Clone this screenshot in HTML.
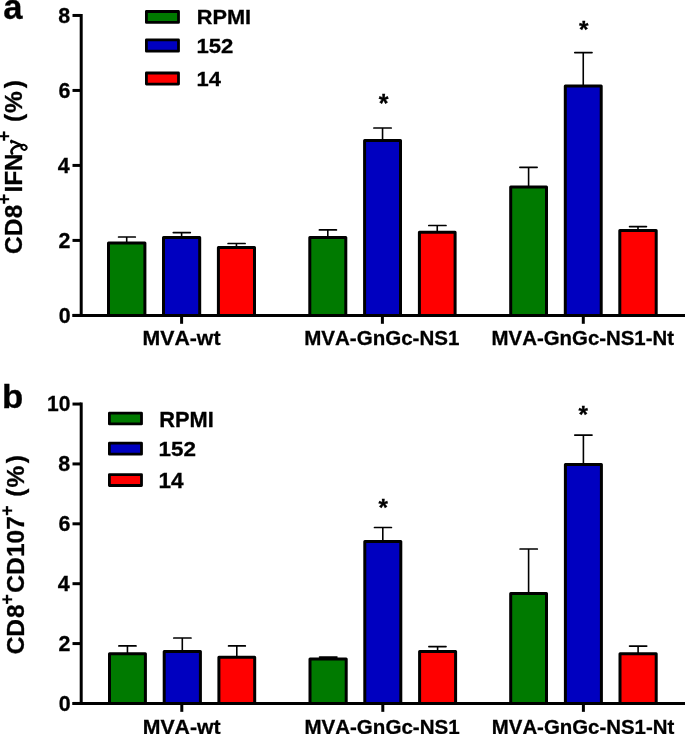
<!DOCTYPE html>
<html><head><meta charset="utf-8"><style>
html,body{margin:0;padding:0;background:#fff;}
body{width:685px;height:734px;overflow:hidden;}
svg{display:block;will-change:transform;}
text{font-family:"Liberation Sans",sans-serif;font-weight:bold;fill:#000;font-kerning:none;stroke:#000;stroke-width:0.3px;}
</style></head><body>
<svg width="685" height="734" viewBox="0 0 685 734">
<line x1="126.7" y1="243.1" x2="126.7" y2="237" stroke="#000" stroke-width="1.6"/>
<line x1="118.6" y1="237" x2="135.3" y2="237" stroke="#000" stroke-width="1.7" stroke-linecap="round"/>
<rect x="108.5" y="243.1" width="36.4" height="72.3" fill="#007a00" stroke="#000" stroke-width="3.0" stroke-linejoin="round"/>
<line x1="181.6" y1="237.5" x2="181.6" y2="232.6" stroke="#000" stroke-width="1.6"/>
<line x1="173.3" y1="232.6" x2="190.3" y2="232.6" stroke="#000" stroke-width="1.7" stroke-linecap="round"/>
<rect x="163.5" y="237.5" width="36.2" height="77.9" fill="#0000c0" stroke="#000" stroke-width="3.0" stroke-linejoin="round"/>
<line x1="236.45" y1="247.4" x2="236.45" y2="243.5" stroke="#000" stroke-width="1.6"/>
<line x1="228.1" y1="243.5" x2="245.1" y2="243.5" stroke="#000" stroke-width="1.7" stroke-linecap="round"/>
<rect x="218.4" y="247.4" width="36.1" height="68" fill="#ff0000" stroke="#000" stroke-width="3.0" stroke-linejoin="round"/>
<line x1="327.8" y1="237.6" x2="327.8" y2="229.9" stroke="#000" stroke-width="1.6"/>
<line x1="319.4" y1="229.9" x2="336.4" y2="229.9" stroke="#000" stroke-width="1.7" stroke-linecap="round"/>
<rect x="309.8" y="237.6" width="36" height="77.8" fill="#007a00" stroke="#000" stroke-width="3.0" stroke-linejoin="round"/>
<line x1="382.55" y1="140.6" x2="382.55" y2="128" stroke="#000" stroke-width="1.6"/>
<line x1="373.9" y1="128" x2="391.2" y2="128" stroke="#000" stroke-width="1.7" stroke-linecap="round"/>
<rect x="364.6" y="140.6" width="35.9" height="174.8" fill="#0000c0" stroke="#000" stroke-width="3.0" stroke-linejoin="round"/>
<line x1="437.25" y1="232.3" x2="437.25" y2="225.5" stroke="#000" stroke-width="1.6"/>
<line x1="428.8" y1="225.5" x2="446" y2="225.5" stroke="#000" stroke-width="1.7" stroke-linecap="round"/>
<rect x="419.4" y="232.3" width="35.7" height="83.1" fill="#ff0000" stroke="#000" stroke-width="3.0" stroke-linejoin="round"/>
<line x1="528.6" y1="187.1" x2="528.6" y2="167.3" stroke="#000" stroke-width="1.6"/>
<line x1="519.9" y1="167.3" x2="537.1" y2="167.3" stroke="#000" stroke-width="1.7" stroke-linecap="round"/>
<rect x="510.7" y="187.1" width="35.8" height="128.3" fill="#007a00" stroke="#000" stroke-width="3.0" stroke-linejoin="round"/>
<line x1="583.25" y1="86" x2="583.25" y2="52.6" stroke="#000" stroke-width="1.6"/>
<line x1="574.8" y1="52.6" x2="592" y2="52.6" stroke="#000" stroke-width="1.7" stroke-linecap="round"/>
<rect x="565.3" y="86" width="35.9" height="229.4" fill="#0000c0" stroke="#000" stroke-width="3.0" stroke-linejoin="round"/>
<line x1="638" y1="230.5" x2="638" y2="226.6" stroke="#000" stroke-width="1.6"/>
<line x1="629.6" y1="226.6" x2="646.4" y2="226.6" stroke="#000" stroke-width="1.7" stroke-linecap="round"/>
<rect x="619.8" y="230.5" width="36.4" height="84.9" fill="#ff0000" stroke="#000" stroke-width="3.0" stroke-linejoin="round"/>
<line x1="81.2" y1="13.95" x2="81.2" y2="315.4" stroke="#000" stroke-width="3"/>
<line x1="72.5" y1="315.4" x2="685" y2="315.4" stroke="#000" stroke-width="3"/>
<line x1="72.5" y1="315.4" x2="81.2" y2="315.4" stroke="#000" stroke-width="3"/>
<text transform="matrix(0.9712,0,0,0.9809,58.68,322.60)" style="font-size:22.0px">0</text>
<line x1="72.5" y1="240.41" x2="81.2" y2="240.41" stroke="#000" stroke-width="3"/>
<text transform="matrix(0.9717,0,0,0.9805,58.57,247.66)" style="font-size:22.0px">2</text>
<line x1="72.5" y1="165.42" x2="81.2" y2="165.42" stroke="#000" stroke-width="3"/>
<text transform="matrix(0.9746,0,0,0.9803,57.86,172.57)" style="font-size:22.0px">4</text>
<line x1="72.5" y1="90.44" x2="81.2" y2="90.44" stroke="#000" stroke-width="3"/>
<text transform="matrix(0.9717,0,0,0.9809,58.57,97.64)" style="font-size:22.0px">6</text>
<line x1="72.5" y1="15.45" x2="81.2" y2="15.45" stroke="#000" stroke-width="3"/>
<text transform="matrix(0.9725,0,0,0.9808,58.37,22.60)" style="font-size:22.0px">8</text>
<line x1="181.6" y1="315.4" x2="181.6" y2="323.8" stroke="#000" stroke-width="3"/>
<line x1="382.4" y1="315.4" x2="382.4" y2="323.8" stroke="#000" stroke-width="3"/>
<line x1="583.3" y1="315.4" x2="583.3" y2="323.8" stroke="#000" stroke-width="3"/>
<text transform="matrix(1.0133,0,0,0.9932,142.53,345.45)" style="font-size:21.0px">MVA-wt</text>
<text transform="matrix(0.9789,0,0,0.9732,304.18,345.46)" style="font-size:21.0px">MVA-GnGc-NS1</text>
<text transform="matrix(0.9721,0,0,0.9732,491.59,345.46)" style="font-size:21.0px">MVA-GnGc-NS1-Nt</text>
<text transform="matrix(1.0002,0,0,1.0002,378.70,111.70)" style="font-size:25.0px">*</text>
<text transform="matrix(0.9733,0,0,0.9733,578.93,37.91)" style="font-size:25.0px">*</text>
<rect x="146.4" y="11.5" width="32.1" height="10.9" fill="#007a00" stroke="#000" stroke-width="2.8" stroke-linejoin="round"/>
<text transform="matrix(1.0118,0,0,0.9595,196.73,24.45)" style="font-size:21.5px">RPMI</text>
<rect x="146.4" y="39.9" width="32.1" height="11.3" fill="#0000c0" stroke="#000" stroke-width="2.8" stroke-linejoin="round"/>
<text transform="matrix(1.0298,0,0,0.9539,196.41,53.06)" style="font-size:21.5px">152</text>
<rect x="146.4" y="73" width="32.1" height="11.1" fill="#ff0000" stroke="#000" stroke-width="2.8" stroke-linejoin="round"/>
<text transform="matrix(1.0223,0,0,0.9730,196.42,86.15)" style="font-size:21.5px">14</text>
<text transform="matrix(1.0166,0,0,1.0166,3.23,18.75)" style="font-size:34.0px">a</text>
<text transform="translate(21.6,254.01) rotate(-90)" style="font-size:24.5px">C</text>
<text transform="translate(21.6,236.15) rotate(-90)" style="font-size:24.5px">D</text>
<text transform="translate(21.6,218.17) rotate(-90)" style="font-size:24.5px">8</text>
<text transform="translate(10.3,204.22) rotate(-90)" style="font-size:17.5px">+</text>
<text transform="translate(21.6,192.45) rotate(-90)" style="font-size:24.5px">I</text>
<text transform="translate(21.6,185.65) rotate(-90)" style="font-size:24.5px">F</text>
<text transform="translate(21.6,171.34) rotate(-90)" style="font-size:24.5px">N</text>
<g fill="none" stroke="#000" stroke-linecap="round"><path d="M 11.6 141.3 C 14.5 141.7, 17.5 143.3, 21.3 145.2" stroke-width="2.2"/><ellipse cx="24.0" cy="147.3" rx="2.75" ry="2.3" transform="rotate(35 24 147.3)" stroke-width="1.9"/><path d="M 21.3 145.3 C 17 145.6, 13.6 147.2, 12.0 149.6 C 11.3 150.8, 11.4 152.6, 12.2 153.6" stroke-width="2.5"/></g><ellipse cx="11.4" cy="141.6" rx="1.3" ry="2.1" fill="#000"/>
<text transform="translate(10.3,141.17) rotate(-90)" style="font-size:17.5px">+</text>
<text transform="translate(21.6,121.88) rotate(-90)" style="font-size:24.5px">(</text>
<text transform="translate(21.6,112.97) rotate(-90)" style="font-size:24.5px">%</text>
<text transform="translate(21.6,88.18) rotate(-90)" style="font-size:24.5px">)</text>
<line x1="127.45" y1="653.8" x2="127.45" y2="645.9" stroke="#000" stroke-width="1.6"/>
<line x1="118.9" y1="645.9" x2="136" y2="645.9" stroke="#000" stroke-width="1.7" stroke-linecap="round"/>
<rect x="109.5" y="653.8" width="35.9" height="49.65" fill="#007a00" stroke="#000" stroke-width="3.0" stroke-linejoin="round"/>
<line x1="182.3" y1="651.6" x2="182.3" y2="638" stroke="#000" stroke-width="1.6"/>
<line x1="173.8" y1="638" x2="191" y2="638" stroke="#000" stroke-width="1.7" stroke-linecap="round"/>
<rect x="164.2" y="651.6" width="36.2" height="51.85" fill="#0000c0" stroke="#000" stroke-width="3.0" stroke-linejoin="round"/>
<line x1="236.8" y1="657.3" x2="236.8" y2="645.9" stroke="#000" stroke-width="1.6"/>
<line x1="228.6" y1="645.9" x2="245.3" y2="645.9" stroke="#000" stroke-width="1.7" stroke-linecap="round"/>
<rect x="218.9" y="657.3" width="35.8" height="46.15" fill="#ff0000" stroke="#000" stroke-width="3.0" stroke-linejoin="round"/>
<line x1="328.1" y1="659" x2="328.1" y2="657.1" stroke="#000" stroke-width="1.6"/>
<line x1="319.6" y1="657.1" x2="336.9" y2="657.1" stroke="#000" stroke-width="1.7" stroke-linecap="round"/>
<rect x="310" y="659" width="36.2" height="44.45" fill="#007a00" stroke="#000" stroke-width="3.0" stroke-linejoin="round"/>
<line x1="382.8" y1="541.6" x2="382.8" y2="527.5" stroke="#000" stroke-width="1.6"/>
<line x1="374.5" y1="527.5" x2="391.4" y2="527.5" stroke="#000" stroke-width="1.7" stroke-linecap="round"/>
<rect x="364.8" y="541.6" width="36" height="161.85" fill="#0000c0" stroke="#000" stroke-width="3.0" stroke-linejoin="round"/>
<line x1="437.6" y1="651.4" x2="437.6" y2="646.6" stroke="#000" stroke-width="1.6"/>
<line x1="428.9" y1="646.6" x2="446" y2="646.6" stroke="#000" stroke-width="1.7" stroke-linecap="round"/>
<rect x="419.6" y="651.4" width="36" height="52.05" fill="#ff0000" stroke="#000" stroke-width="3.0" stroke-linejoin="round"/>
<line x1="528.6" y1="593.6" x2="528.6" y2="549" stroke="#000" stroke-width="1.6"/>
<line x1="520.1" y1="549" x2="537.3" y2="549" stroke="#000" stroke-width="1.7" stroke-linecap="round"/>
<rect x="510.7" y="593.6" width="35.8" height="109.85" fill="#007a00" stroke="#000" stroke-width="3.0" stroke-linejoin="round"/>
<line x1="583.4" y1="464.4" x2="583.4" y2="435.1" stroke="#000" stroke-width="1.6"/>
<line x1="574.8" y1="435.1" x2="592" y2="435.1" stroke="#000" stroke-width="1.7" stroke-linecap="round"/>
<rect x="565.4" y="464.4" width="36" height="239.05" fill="#0000c0" stroke="#000" stroke-width="3.0" stroke-linejoin="round"/>
<line x1="638.1" y1="653.8" x2="638.1" y2="646.1" stroke="#000" stroke-width="1.6"/>
<line x1="629.6" y1="646.1" x2="646.7" y2="646.1" stroke="#000" stroke-width="1.7" stroke-linecap="round"/>
<rect x="620" y="653.8" width="36.2" height="49.65" fill="#ff0000" stroke="#000" stroke-width="3.0" stroke-linejoin="round"/>
<line x1="81.2" y1="402.55" x2="81.2" y2="703.45" stroke="#000" stroke-width="3"/>
<line x1="72.5" y1="703.45" x2="685" y2="703.45" stroke="#000" stroke-width="3"/>
<line x1="72.5" y1="703.45" x2="81.2" y2="703.45" stroke="#000" stroke-width="3"/>
<text transform="matrix(0.9712,0,0,0.9809,58.68,710.65)" style="font-size:22.0px">0</text>
<line x1="72.5" y1="643.57" x2="81.2" y2="643.57" stroke="#000" stroke-width="3"/>
<text transform="matrix(0.9717,0,0,0.9805,58.57,650.82)" style="font-size:22.0px">2</text>
<line x1="72.5" y1="583.69" x2="81.2" y2="583.69" stroke="#000" stroke-width="3"/>
<text transform="matrix(0.9746,0,0,0.9803,57.86,590.84)" style="font-size:22.0px">4</text>
<line x1="72.5" y1="523.81" x2="81.2" y2="523.81" stroke="#000" stroke-width="3"/>
<text transform="matrix(0.9717,0,0,0.9809,58.57,531.01)" style="font-size:22.0px">6</text>
<line x1="72.5" y1="463.93" x2="81.2" y2="463.93" stroke="#000" stroke-width="3"/>
<text transform="matrix(0.9725,0,0,0.9808,58.37,471.08)" style="font-size:22.0px">8</text>
<line x1="72.5" y1="404.05" x2="81.2" y2="404.05" stroke="#000" stroke-width="3"/>
<text transform="matrix(0.9550,0,0,0.9809,47.11,411.25)" style="font-size:22.0px">10</text>
<line x1="181.8" y1="703.45" x2="181.8" y2="711.85" stroke="#000" stroke-width="3"/>
<line x1="382.8" y1="703.45" x2="382.8" y2="711.85" stroke="#000" stroke-width="3"/>
<line x1="583.4" y1="703.45" x2="583.4" y2="711.85" stroke="#000" stroke-width="3"/>
<text transform="matrix(1.0133,0,0,0.9932,142.73,733.50)" style="font-size:21.0px">MVA-wt</text>
<text transform="matrix(0.9789,0,0,0.9732,304.38,733.51)" style="font-size:21.0px">MVA-GnGc-NS1</text>
<text transform="matrix(0.9721,0,0,0.9732,491.79,733.51)" style="font-size:21.0px">MVA-GnGc-NS1-Nt</text>
<text transform="matrix(0.9684,0,0,0.9684,378.50,515.95)" style="font-size:25.0px">*</text>
<text transform="matrix(0.9736,0,0,0.9736,578.43,423.02)" style="font-size:25.0px">*</text>
<rect x="109.4" y="413.2" width="32.1" height="10.7" fill="#007a00" stroke="#000" stroke-width="2.8" stroke-linejoin="round"/>
<text transform="matrix(1.0157,0,0,1.0000,159.23,426.55)" style="font-size:21.5px">RPMI</text>
<rect x="109.4" y="443.2" width="32.1" height="11" fill="#0000c0" stroke="#000" stroke-width="2.8" stroke-linejoin="round"/>
<text transform="matrix(1.0446,0,0,0.9803,158.59,456.45)" style="font-size:21.5px">152</text>
<rect x="109.4" y="474.6" width="32.1" height="10.9" fill="#ff0000" stroke="#000" stroke-width="2.8" stroke-linejoin="round"/>
<text transform="matrix(1.0491,0,0,1.0000,158.58,487.95)" style="font-size:21.5px">14</text>
<text transform="matrix(1.0233,0,0,0.9960,2.10,408.15)" style="font-size:34.0px">b</text>
<text transform="translate(23.8,654.26) rotate(-90)" style="font-size:24.5px">C</text>
<text transform="translate(23.8,636.7) rotate(-90)" style="font-size:24.5px">D</text>
<text transform="translate(23.8,617.97) rotate(-90)" style="font-size:24.5px">8</text>
<text transform="translate(12.6,604.47) rotate(-90)" style="font-size:17.5px">+</text>
<text transform="translate(23.8,592.66) rotate(-90)" style="font-size:24.5px">C</text>
<text transform="translate(23.8,574.9) rotate(-90)" style="font-size:24.5px">D</text>
<text transform="translate(23.8,556.94) rotate(-90)" style="font-size:24.5px">1</text>
<text transform="translate(23.8,543.39) rotate(-90)" style="font-size:24.5px">0</text>
<text transform="translate(23.8,529.7) rotate(-90)" style="font-size:24.5px">7</text>
<text transform="translate(12.6,515.82) rotate(-90)" style="font-size:17.5px">+</text>
<text transform="translate(23.8,496.73) rotate(-90)" style="font-size:24.5px">(</text>
<text transform="translate(23.8,487.57) rotate(-90)" style="font-size:24.5px">%</text>
<text transform="translate(23.8,463.18) rotate(-90)" style="font-size:24.5px">)</text>
</svg>
</body></html>
